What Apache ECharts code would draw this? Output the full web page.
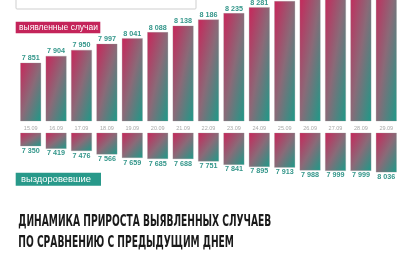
<!DOCTYPE html>
<html><head><meta charset="utf-8">
<script src="https://cdn.jsdelivr.net/npm/echarts@6/dist/echarts.min.js"></script>
<style>html,body{margin:0;padding:0;background:#fff}#c{width:414px;height:256px}</style>
</head><body><div id="c"></div>
<script>
const dates = ['15.09','16.09','17.09','18.09','19.09','20.09','21.09','22.09','23.09','24.09','25.09','26.09','27.09','28.09','29.09'];
const detected = [7851,7904,7950,7997,8041,8088,8138,8186,8235,8281,8328,8376,8424,8471,8519];
const recovered = [7350,7419,7476,7566,7659,7685,7688,7751,7841,7895,7913,7988,7999,7999,8036];
const legendTop = 'выявленные случаи';
const legendBottom = 'выздоровевшие';
const titleLines = ['ДИНАМИКА ПРИРОСТА ВЫЯВЛЕННЫХ СЛУЧАЕВ','ПО СРАВНЕНИЮ С ПРЕДЫДУЩИМ ДНЕМ'];

const CRIMSON = '#c9255a', TEAL = '#1c9a88', MID = '#8a6a78';
const LABEL = '#33968a';
const BAR_W = 21;
const TOP = {min:7400, max:8800, top:-60, height:181};
const BOT = {min:7000, max:8500, top:133, height:57};

function fmt(v){ return String(v).replace(/\B(?=(\d{3})+(?!\d))/g,' '); }
function grad(h){
  const w = BAR_W; h = Math.max(h,1);
  const d = h*h + w*w;
  return new echarts.graphic.LinearGradient(0,0,2*h*h/d,2*w*w/d,[
    {offset:0,color:CRIMSON},{offset:0.5,color:MID},{offset:1,color:TEAL}]);
}
function barColor(g){
  return p => grad((p.value - g.min) * g.height / (g.max - g.min));
}

const ctx = document.createElement('canvas').getContext('2d');
function fitSize(text, family, weight, width){
  ctx.font = weight + ' 10px ' + family;
  return 10 * width / ctx.measureText(text).width;
}
const LFAM = '"Liberation Sans", Arial, sans-serif';
const TFAM = '"DejaVu Sans Condensed", "DejaVu Sans", sans-serif';
const TFONT = 'bold 15px ' + TFAM;
ctx.font = TFONT;
const tScale = 253 / ctx.measureText(titleLines[0]).width;
const lTopSize = Math.min(fitSize(legendTop, LFAM, 'normal', 79), 11);
const lBotSize = Math.min(fitSize(legendBottom, LFAM, 'normal', 70), 11.5);

const chart = echarts.init(document.getElementById('c'), null, {renderer:'canvas'});
chart.setOption({
  backgroundColor:'#fff',
  animation:false,
  grid:[
    {left:18, right:15, top:TOP.top, height:TOP.height, containLabel:false, outerBoundsMode:'none'},
    {left:18, right:15, top:BOT.top, height:BOT.height, containLabel:false, outerBoundsMode:'none'}
  ],
  xAxis:[
    {type:'category', data:dates, gridIndex:0, axisLine:{show:false}, axisTick:{show:false},
     axisLabel:{color:'#a8a8a8', fontSize:5.5, margin:4, fontFamily:LFAM}},
    {type:'category', data:dates, gridIndex:1, show:false}
  ],
  yAxis:[
    {type:'value', gridIndex:0, min:TOP.min, max:TOP.max, show:false, splitLine:{show:false}},
    {type:'value', gridIndex:1, min:BOT.min, max:BOT.max, inverse:true, show:false, splitLine:{show:false}}
  ],
  series:[
    {type:'bar', xAxisIndex:0, yAxisIndex:0, data:detected, barWidth:BAR_W,
     itemStyle:{color:barColor(TOP), borderColor:'rgba(150,150,150,0.45)', borderWidth:0.6},
     label:{show:true, position:'top', distance:1, color:LABEL, fontSize:7.2, fontWeight:'bold',
       fontFamily:LFAM, formatter:p=>fmt(p.value)}},
    {type:'bar', xAxisIndex:1, yAxisIndex:1, data:recovered, barWidth:BAR_W,
     itemStyle:{color:barColor(BOT), borderColor:'rgba(150,150,150,0.45)', borderWidth:0.6},
     label:{show:true, position:'bottom', distance:1, color:LABEL, fontSize:7.2, fontWeight:'bold',
       fontFamily:LFAM, formatter:p=>fmt(p.value)}}
  ],
  graphic:[
    {type:'rect', shape:{x:16, y:-20, width:180, height:29, r:1},
     style:{fill:'#fff', stroke:'#cfcfcf', lineWidth:1}, z:10},
    {type:'rect', shape:{x:15.7, y:21.7, width:84.6, height:11.6},
     style:{fill:'#c4245a'}, z:10},
    {type:'text', x:58.5, y:27.8, z:11,
     style:{text:legendTop, fill:'#fff', font:lTopSize.toFixed(2)+'px '+LFAM,
       textAlign:'center', textVerticalAlign:'middle'}},
    {type:'rect', shape:{x:15.7, y:172.7, width:85.3, height:13},
     style:{fill:'#28998a'}, z:10},
    {type:'text', x:56, y:179.4, z:11,
     style:{text:legendBottom, fill:'#fff', font:lBotSize.toFixed(2)+'px '+LFAM,
       textAlign:'center', textVerticalAlign:'middle'}},
    {type:'text', x:18.3, y:222.6, scaleX:tScale, z:11,
     style:{text:titleLines[0], fill:'#1a1a1a', font:TFONT, textVerticalAlign:'middle'}},
    {type:'text', x:18.3, y:242.8, scaleX:tScale, z:11,
     style:{text:titleLines[1], fill:'#1a1a1a', font:TFONT, textVerticalAlign:'middle'}}
  ]
});
</script></body></html>
